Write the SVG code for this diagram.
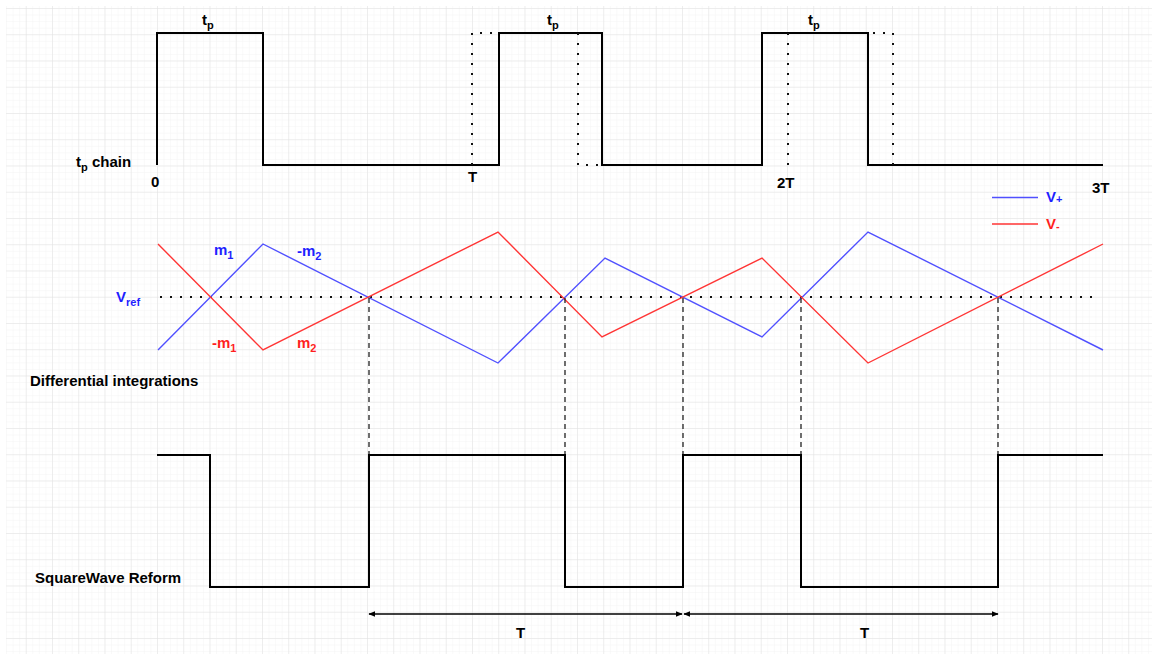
<svg xmlns="http://www.w3.org/2000/svg" width="1157" height="660" viewBox="0 0 1157 660">
<style>
.lbl{font-family:"Liberation Sans",Arial,sans-serif;font-weight:bold;font-size:15px;fill:#000}
.blue{fill:#1f1fff}
.red{fill:#ff1f1f}
.wave{fill:none;stroke:#000;stroke-width:2}
.dot{fill:none;stroke:#111;stroke-width:2;stroke-dasharray:2 8}
.dash{fill:none;stroke:#222;stroke-width:1.3;stroke-dasharray:5 4}
.vp{fill:none;stroke:#5050ff;stroke-width:1.4}
.vm{fill:none;stroke:#ff3535;stroke-width:1.4}
.arr{fill:none;stroke:#000;stroke-width:1.3;marker-start:url(#ah);marker-end:url(#ah)}
</style>
<defs>
<pattern id="minor" patternUnits="userSpaceOnUse" x="-0.5" y="8" width="6.5625" height="6.5625">
<path d="M0 0H6.5625M0 0V6.5625" fill="none" stroke="#f4f4f4" stroke-width="1"/>
</pattern>
<pattern id="major" patternUnits="userSpaceOnUse" x="-0.5" y="8" width="26.25" height="26.25">
<path d="M0 0H26.25M0 0V26.25" fill="none" stroke="#e1e1e1" stroke-width="1"/>
</pattern>
<marker id="ah" viewBox="0 0 10 10" refX="9" refY="5" markerWidth="7" markerHeight="7" markerUnits="userSpaceOnUse" orient="auto-start-reverse">
<path d="M0 1L10 5L0 9Z" fill="#000"/>
</marker>
</defs>
<rect width="1157" height="660" fill="#fff"/>
<rect x="6" y="6" width="1146" height="648" fill="url(#minor)"/>
<rect x="6" y="6" width="1146" height="648" fill="url(#major)"/>

<g id="connectors">
<polyline id="tp-chain" class="wave" points="157,165 157,33 263,33 263,165 499,165 499,33 602,33 602,165 762,165 762,33 868,33 868,165 1103,165"/>
<path class="dot" d="M472 165V33H499M578 33V165H602M788 33V165M893 165V33H868"/>
<path class="dot" d="M160 297H1100"/>
<polyline id="vplus" class="vp" points="158,350 263,244 498,363 605,258 762,337 868,232 1103,350"/>
<polyline id="vminus" class="vm" points="158,244 263,350 498,232 602,337 762,258 868,363 1103,244"/>
<path class="dash" d="M369 298V455M565 298V455M683 298V455M801 298V455M998 298V455"/>
<polyline id="square" class="wave" points="157,455 210,455 210,587 369,587 369,455 565,455 565,587 683,587 683,455 801,455 801,587 998,587 998,455 1103,455"/>
<line class="arr" x1="369" y1="614" x2="682" y2="614"/>
<line class="arr" x1="684" y1="614" x2="998" y2="614"/>
<line class="vp" x1="992" y1="197.5" x2="1038" y2="197.5"/>
<line class="vm" x1="992" y1="224" x2="1038" y2="224"/>
</g>

<g id="label-tp1"><text class="lbl" x="202" y="25">t<tspan font-size="11" dy="4">p</tspan></text></g>
<g id="label-tp2"><text class="lbl" x="547" y="25">t<tspan font-size="11" dy="4">p</tspan></text></g>
<g id="label-tp3"><text class="lbl" x="808" y="25">t<tspan font-size="11" dy="4">p</tspan></text></g>
<g id="label-chain"><text class="lbl" x="76" y="167">t<tspan font-size="11" dy="4">p</tspan><tspan dy="-4"> chain</tspan></text></g>
<g id="label-0"><text class="lbl" x="151" y="187">0</text></g>
<g id="label-T"><text class="lbl" x="468" y="182">T</text></g>
<g id="label-2T"><text class="lbl" x="777" y="188">2T</text></g>
<g id="label-3T"><text class="lbl" x="1092" y="193">3T</text></g>
<g id="legend-vp"><text class="lbl blue" x="1046" y="202">V<tspan font-size="11" dy="1">+</tspan></text></g>
<g id="legend-vm"><text class="lbl red" x="1046" y="229">V<tspan font-size="11" dy="1">-</tspan></text></g>
<g id="label-vref"><text class="lbl blue" x="116" y="302">V<tspan font-size="11" dy="4">ref</tspan></text></g>
<g id="label-m1"><text class="lbl blue" x="214" y="255">m<tspan font-size="11" dy="4">1</tspan></text></g>
<g id="label-neg-m2"><text class="lbl blue" x="297" y="256">-m<tspan font-size="11" dy="4">2</tspan></text></g>
<g id="label-neg-m1"><text class="lbl red" x="212" y="348">-m<tspan font-size="11" dy="4">1</tspan></text></g>
<g id="label-m2"><text class="lbl red" x="297" y="348">m<tspan font-size="11" dy="4">2</tspan></text></g>
<g id="label-diff"><text class="lbl" x="30" y="386">Differential integrations</text></g>
<g id="label-square"><text class="lbl" x="35" y="583">SquareWave Reform</text></g>
<g id="label-T1"><text class="lbl" x="516" y="638">T</text></g>
<g id="label-T2"><text class="lbl" x="860" y="638">T</text></g>
</svg>
